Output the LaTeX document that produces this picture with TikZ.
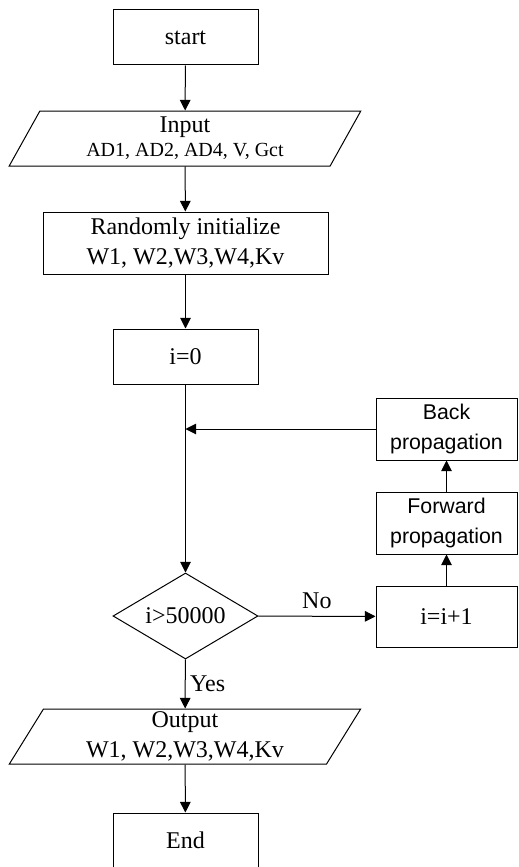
\documentclass[tikz,border=0pt]{standalone}
\usepackage{fontspec}
\setmainfont{Liberation Serif}
\newfontfamily\arialfont{Liberation Sans}
\usetikzlibrary{shapes.geometric, arrows.meta}
\tikzset{
	box/.style={draw, line width=.75pt, inner sep=0pt, align=center, minimum width=108.75pt, minimum height=41.25pt, font=\fontsize{18}{22}\selectfont},
	io/.style={box, trapezium, trapezium left angle=64, trapezium right angle=116, trapezium stretches=true, minimum width=264pt},
	test/.style={box, diamond, aspect=1.69, minimum height=64.5pt},
	sbox/.style={box, minimum width=105.75pt, minimum height=46.5pt, font=\arialfont\fontsize{16}{22}\selectfont},
	flow/.style={line width=.75pt, -{Triangle[width=8pt, length=8pt]}}
}

\begin{document}
\begin{tikzpicture}[x=.75pt, y=-.75pt]
	\useasboundingbox (0, 0) rectangle (518, 867);
	\clip (0, 0) rectangle (518, 867);
	\node[box](start) at (185.5, 37.5){start};
	\node[io](input) at (185, 138.5){Input\\[-4pt]{\fontsize{15}{18}\selectfont AD1, AD2, AD4, V, Gct}};
	\node[box, minimum width=213.75pt, minimum height=46.5pt](init) at (185.5, 243){Randomly initialize\\W1, W2,W3,W4,Kv};
	\node[box](zero) at (185.5, 356.5){i=0};
	\node[test](check) at (185.5, 616){i>50000};
	\node[io](output) at (185, 736.5){Output\\W1, W2,W3,W4,Kv};
	\node[box](stop) at (185.5, 840.5){End};
	\node[sbox](back) at (446.5, 429){Back\\propagation};
	\node[sbox](fwd) at (446.5, 523){Forward\\propagation};
	\node[box, minimum width=105.75pt, minimum height=45.75pt](incr) at (446.5, 616.5){i=i+1};
	\coordinate (join) at (185.5, 429);
	\draw[flow](start)--(input);
	\draw[flow](input)--(init);
	\draw[flow](init)--(zero);
	\draw[flow](zero)--(check);
	\draw[flow](back)--(join);
	\draw[flow](check)--(incr)node[midway, above=2pt, font=\fontsize{18}{22}\selectfont]{No};
	\draw[flow](incr)--(fwd);
	\draw[flow](fwd)--(back);
	\draw[flow](check)--(output)node[midway, right, font=\fontsize{18}{22}\selectfont]{Yes};
	\draw[flow](output)--(stop);
\end{tikzpicture}
\end{document}
